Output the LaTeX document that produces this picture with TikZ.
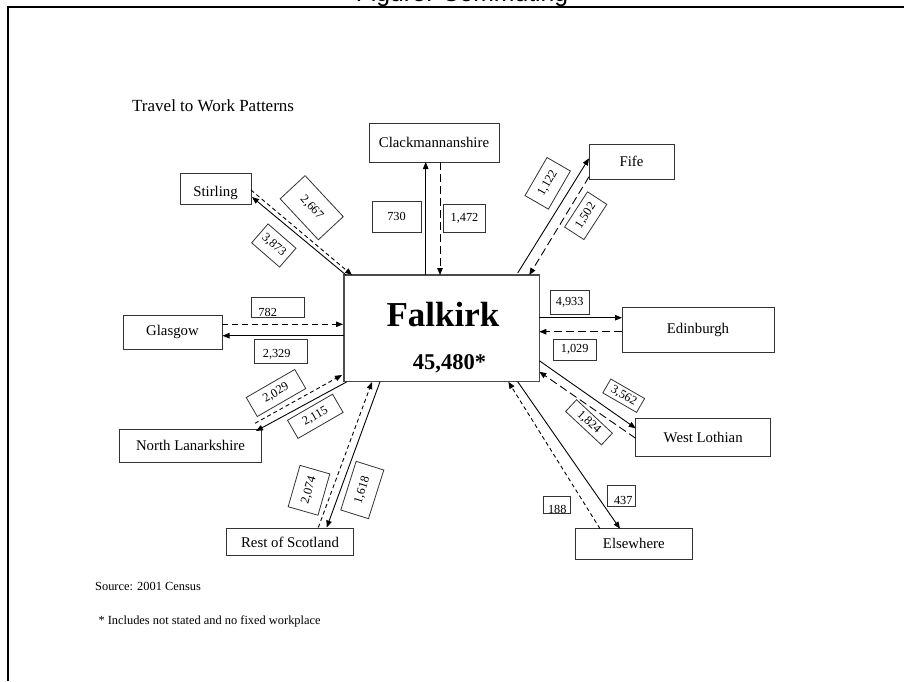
\documentclass[tikz,border=0pt]{standalone}
\usepackage{fontspec}
\setmainfont{Liberation Serif}
\newfontfamily\titlefont{Liberation Sans}
\usetikzlibrary{arrows.meta}
\begin{document}
\begin{tikzpicture}[x=1pt,y=-1pt,
  place/.style={draw=black!80, line width=0.9pt, inner sep=0pt, font=\fontsize{14.8}{16}\selectfont},
  numbox/.style={draw=black!80, line width=0.8pt, inner sep=0pt, font=\fontsize{12.3}{14}\selectfont},
  numtext/.style={inner sep=0pt, font=\fontsize{12.3}{14}\selectfont},
  plain/.style={inner sep=0pt},
  flow/.style={line width=0.9pt, -{Triangle[length=7pt,width=5.5pt]}},
  shortdash/.style={dash pattern=on 4pt off 3pt},
  middash/.style={dash pattern=on 6pt off 4pt},
  longdash/.style={dash pattern=on 8pt off 4pt},
]
\useasboundingbox (0,0) rectangle (904,681);
\fill[white] (0,0) rectangle (904,681);

% frame and cut-off title
\draw[line width=2pt] (8,681) -- (8,6.7) -- (904,6.7);
\node[plain, anchor=base, font=\titlefont\fontsize{24.7}{26}\selectfont] (title) at (462,1.5) {Figure: Commuting};

\node[plain, anchor=base west, font=\fontsize{17}{19}\selectfont] (heading) at (132,111) {Travel to Work Patterns};

% place boxes
\node[place, minimum width=130pt, minimum height=39pt] (clack) at (434,142.5) {Clackmannanshire};
\node[place, minimum width=71pt, minimum height=31pt] (stir) at (215.5,188.5) {\raisebox{-4pt}[\height][\depth]{Stirling}};
\node[place, minimum width=85pt, minimum height=35pt] (fife) at (631.5,161.5) {Fife};
\node[place, minimum width=99pt, minimum height=34pt] (glas) at (172.5,332) {Glasgow};
\node[draw=black!70, line width=1.4pt, minimum width=195.3pt, minimum height=106.7pt, inner sep=0pt] (falk) at (441.7,328.3) {};
\node[plain, anchor=base, font=\bfseries\fontsize{35}{38}\selectfont] (falkname) at (443,326.7) {Falkirk};
\node[plain, anchor=base, font=\bfseries\fontsize{22.5}{25}\selectfont] (falknum) at (449.5,369) {45,480*};
\node[place, minimum width=152pt, minimum height=45pt] (edin) at (698,330.2) {Edinburgh};
\node[place, minimum width=135pt, minimum height=38pt] (wl) at (703.2,437) {West Lothian};
\node[place, minimum width=142.4pt, minimum height=33.7pt] (nl) at (190.5,445.8) {North Lanarkshire};
\node[place, minimum width=126.6pt, minimum height=27.4pt] (ros) at (290,542) {Rest of Scotland};
\node[place, minimum width=116.3pt, minimum height=30.3pt] (else) at (633.8,543.8) {Elsewhere};

% connector end points
\coordinate (clA) at (425.7,275);   \coordinate (clB) at (425.7,162);
\coordinate (clC) at (440,162);     \coordinate (clD) at (440,275);
\coordinate (stA) at (251,190);     \coordinate (stB) at (352,275);
\coordinate (stC) at (346,275);     \coordinate (stD) at (252,197);
\coordinate (glA) at (222,324.3);   \coordinate (glB) at (343,324.3);
\coordinate (glC) at (344,335.7);   \coordinate (glD) at (222.5,335.7);
\coordinate (nlA) at (255,423.3);   \coordinate (nlB) at (342,375);
\coordinate (nlC) at (347,381.7);   \coordinate (nlD) at (256,431);
\coordinate (rsA) at (318.3,527.5); \coordinate (rsB) at (372,382);
\coordinate (rsC) at (380,381.7);   \coordinate (rsD) at (326.7,527.5);
\coordinate (fiA) at (517.7,273);   \coordinate (fiB) at (589,158.3);
\coordinate (fiC) at (589,176.7);   \coordinate (fiD) at (529.3,275);
\coordinate (edA) at (539.3,317.7); \coordinate (edB) at (622,317.7);
\coordinate (edC) at (622,331.7);   \coordinate (edD) at (539.3,331.7);
\coordinate (wlA) at (539.3,360.7); \coordinate (wlB) at (635.7,428.3);
\coordinate (wlC) at (635.7,438.3); \coordinate (wlD) at (539.3,371.7);
\coordinate (elA) at (517.7,381.7); \coordinate (elB) at (620,528.7);
\coordinate (elC) at (600,528.7);   \coordinate (elD) at (508.3,381.7);

% connectors
\draw[flow] (clA) -- (clB);
\draw[flow, longdash] (clC) -- (clD);
\draw[flow, shortdash] (stA) -- (stB);
\draw[flow] (stC) -- (stD);
\draw[flow, middash] (glA) -- (glB);
\draw[flow] (glC) -- (glD);
\draw[flow, shortdash] (nlA) -- (nlB);
\draw[flow] (nlC) -- (nlD);
\draw[flow, shortdash] (rsA) -- (rsB);
\draw[flow] (rsC) -- (rsD);
\draw[flow] (fiA) -- (fiB);
\draw[flow, longdash] (fiC) -- (fiD);
\draw[flow] (edA) -- (edB);
\draw[flow, longdash] (edC) -- (edD);
\draw[flow] (wlA) -- (wlB);
\draw[flow, longdash] (wlC) -- (wlD);
\draw[flow] (elA) -- (elB);
\draw[flow, shortdash] (elC) -- (elD);

% straight number boxes
\node[numbox, minimum width=49pt, minimum height=31pt] (n730) at (396.5,216.5) {730};
\node[numbox, minimum width=41.6pt, minimum height=27.6pt] (n1472) at (464.5,218.5) {1,472};
\node[numbox, minimum width=52.3pt, minimum height=20.3pt] (b782) at (277.9,307.2) {};
\node[numtext] (n782) at (267.7,312.3) {782};
\node[numbox, minimum width=53pt, minimum height=24pt] (b2329) at (280.8,351.3) {};
\node[numtext] (n2329) at (276.7,354.3) {2,329};
\node[numbox, minimum width=38.7pt, minimum height=23.7pt] (n4933) at (569.7,302.2) {4,933};
\node[numbox, minimum width=42.7pt, minimum height=20.7pt] (n1029) at (574.7,349.7) {1,029};
\node[numbox, minimum width=27.6pt, minimum height=20.3pt] (b437) at (621.5,495.8) {};
\node[numtext] (n437) at (623.3,500.7) {437};
\node[numbox, minimum width=27.4pt, minimum height=17.3pt] (b188) at (557,504.7) {};
\node[numtext] (n188) at (557.3,509) {188};

% rotated number boxes
\node[numbox, rotate=-47, minimum width=56pt, minimum height=34pt] (n2667) at (311.7,207.7) {2,667};
\node[numbox, rotate=-41, minimum width=37pt, minimum height=25pt] (n3873) at (273.8,245.5) {3,873};
\node[numbox, rotate=30, minimum width=56pt, minimum height=22pt] (n2029) at (276,393) {2,029};
\node[numbox, rotate=30, minimum width=52pt, minimum height=21pt] (n2115) at (315.3,416.3) {2,115};
\node[numbox, rotate=74, minimum width=43pt, minimum height=31pt] (n2074) at (309,490.3) {2,074};
\node[numbox, rotate=72.5, minimum width=51pt, minimum height=29pt] (n1618) at (362.3,490) {1,618};
\node[numbox, rotate=60, minimum width=44pt, minimum height=27pt] (n1122) at (547.7,183.3) {1,122};
\node[numbox, rotate=57, minimum width=42pt, minimum height=23pt] (n1502) at (585.7,215.7) {1,502};
\node[numbox, rotate=-30, minimum width=39pt, minimum height=16pt] (n3562) at (623.7,395.7) {3,562};
\node[numbox, rotate=-43, minimum width=49pt, minimum height=16pt] (n1824) at (589,422.3) {1,824};

% footnotes
\node[plain, anchor=west, font=\fontsize{12.4}{14}\selectfont] (source) at (95,586.7) {Source: 2001 Census};
\node[plain, anchor=west, font=\fontsize{12.4}{14}\selectfont] (note) at (98.3,621.7) {* Includes not stated and no fixed workplace};
\end{tikzpicture}
\end{document}
